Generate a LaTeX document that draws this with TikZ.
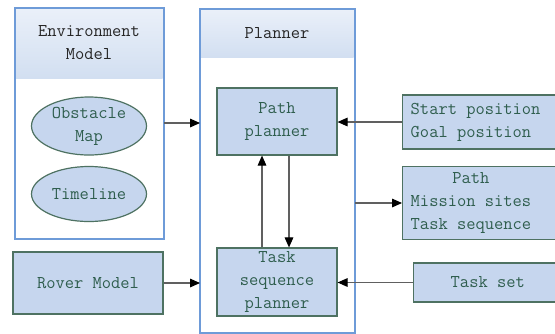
\documentclass[tikz,border=0pt]{standalone}
\usepackage{fontspec}
\usetikzlibrary{arrows.meta,shapes.geometric,positioning,calc}
\definecolor{boxfill}{HTML}{C6D6EE}
\definecolor{boxline}{HTML}{4E7262}
\definecolor{txtc}{HTML}{2F5E4E}
\definecolor{contline}{HTML}{6E9BD8}
\definecolor{headtop}{HTML}{EAF0F9}
\definecolor{headbot}{HTML}{D2DFF1}
\definecolor{arrc}{HTML}{606060}
\begin{document}
\begin{tikzpicture}[x=0.75pt,y=-0.75pt,
  font=\ttfamily\fontsize{13.5}{17.2}\selectfont,
  container/.style={draw=contline,line width=1pt,fill=white},
  header/.style={top color=headtop,bottom color=headbot,draw=none},
  blockbox/.style={draw=boxline,line width=0.9pt,fill=boxfill,text=txtc,align=center,inner sep=0pt},
  oval/.style={ellipse,draw=boxline,line width=0.9pt,fill=boxfill,text=txtc,align=center,inner sep=0pt},
  conn/.style={draw=arrc,line width=0.8pt,-{Triangle[length=7.5pt,width=6.5pt,color=black]}}]
\useasboundingbox (0,0) rectangle (555,333);
\clip (0,0) rectangle (555,333);
% containers
\node[container,minimum width=148*0.75pt,minimum height=230*0.75pt,anchor=north west,inner sep=0pt] (env) at (15,8) {};
\fill[header] (15.5,8.5) rectangle (162.5,78);
\draw[contline,line width=1pt] (env.north west) rectangle (env.south east);
\node[align=center,text=black!85] (envt) at (89,43) {Environment\\Model};
\node[container,minimum width=154*0.75pt,minimum height=323*0.75pt,anchor=north west,inner sep=0pt] (plan) at (200,9) {};
\fill[header] (200.5,9.5) rectangle (353.5,57);
\draw[contline,line width=1pt] (plan.north west) rectangle (plan.south east);
\node[text=black!85] (plant) at (277,33) {Planner};
% ellipses
\node[oval,minimum width=115*0.75pt,minimum height=58*0.75pt] (obs) at (89,126) {Obstacle\\Map};
\node[oval,minimum width=115*0.75pt,minimum height=55*0.75pt] (time) at (89,194) {Timeline};
% inner blocks
\node[blockbox,minimum width=120*0.75pt,minimum height=67*0.75pt] (pp) at (277,121.5) {Path\\planner};
\node[blockbox,minimum width=120*0.75pt,minimum height=68*0.75pt] (tp) at (277,282) {Task\\sequence\\planner};
\node[blockbox,minimum width=150*0.75pt,minimum height=62*0.75pt] (rover) at (88,283) {Rover Model};
% right blocks
\node[blockbox,minimum width=155*0.75pt,minimum height=54*0.75pt,anchor=west] (sg) at (402,122) {};
\node[text=txtc,align=left,anchor=west] (sgt) at (406,122) {Start position\\ Goal position};
\node[blockbox,minimum width=155*0.75pt,minimum height=73*0.75pt,anchor=west] (res) at (402,203) {};
\node[text=txtc,align=center,anchor=west] (rest) at (406,203) {Path\\Mission sites\\Task sequence};
\node[blockbox,minimum width=144*0.75pt,minimum height=39*0.75pt,anchor=west] (ts) at (413,282.5) {};
\node[text=txtc,anchor=west] (tst) at (446,282.5) {Task set};
% connectors
\coordinate (pe) at (plan.east |- res.west);
\draw[conn] (env.east |- 0,123) -- (plan.west |- 0,123);
\draw[conn] (rover.east) -- (plan.west |- rover.east);
\draw[conn] (sg.west) -- (pp.east |- sg.west);
\draw[conn] (ts.west) -- (tp.east |- ts.west);
\draw[conn] (pe) -- (res.west);
\draw[conn] (tp.north -| 262,0) -- (pp.south -| 262,0);
\draw[conn] (pp.south -| 289,0) -- (tp.north -| 289,0);
\end{tikzpicture}
\end{document}
